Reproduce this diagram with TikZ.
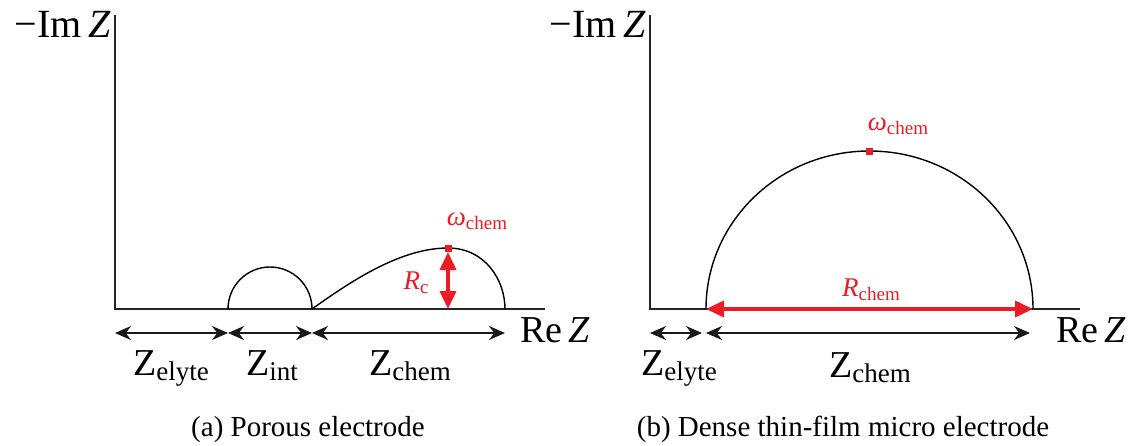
\documentclass[tikz,border=0pt]{standalone}
\usepackage{fontspec}
\setmainfont{Liberation Serif}
\usetikzlibrary{arrows.meta}
\definecolor{myred}{RGB}{237,28,36}
\newcommand{\Zsub}[1]{Z\raisebox{-5pt}{\fontsize{27}{30}\selectfont #1}}
\newcommand{\Rsub}[1]{\textit{R}\raisebox{-4pt}{\fontsize{19}{22}\selectfont #1}}
\newcommand{\Wsub}[1]{\textit{ω}\raisebox{-4pt}{\fontsize{19}{22}\selectfont #1}}
\begin{document}
\begin{tikzpicture}[x=1pt,y=-1pt,
  axis/.style={line width=1.7pt,black!85},
  curve/.style={line width=1.4pt,black},
  dim/.style={line width=2pt,black!90,{Stealth[length=16pt,width=14pt]}-{Stealth[length=16pt,width=14pt]}},
  reddim/.style={line width=3.8pt,myred,{Triangle[length=18pt,width=16pt]}-{Triangle[length=18pt,width=16pt]}},
  biglab/.style={inner sep=0pt,font=\fontsize{38}{42}\selectfont},
  imlab/.style={inner sep=0pt,font=\fontsize{40}{44}\selectfont},
  redlab/.style={inner sep=0pt,text=myred,font=\fontsize{27}{30}\selectfont},
  caplab/.style={inner sep=0pt,font=\fontsize{29}{32}\selectfont},
  marker/.style={fill=myred,minimum size=7pt,inner sep=0pt}]
\useasboundingbox (0,0) rectangle (1141,445);
% ---------- panel (a)
\coordinate (aTop) at (115,15);
\coordinate (aO) at (115,309);
\coordinate (aEnd) at (545,309);
\draw[axis] (aTop) -- (aO) -- (aEnd);
\node[imlab,anchor=base east] (aIm) at (111,37) {−Im\,\textit{Z}};
\node[biglab,anchor=base west] (aRe) at (520,342) {Re\,\textit{Z}};
\coordinate (a1) at (228,309);
\coordinate (a2) at (312,309);
\coordinate (aPk) at (448,248);
\coordinate (a3) at (505,309);
\draw[curve] (a1) arc[start angle=180,end angle=360,radius=42];
\draw[curve] (a2) .. controls (350,282) and (400,248) .. (aPk)
  .. controls (485,248) and (505,280) .. (a3);
\coordinate (aPkb) at (448,252);
\coordinate (aBase) at (448,309);
\draw[reddim] (aPkb) -- (aBase);
\node[marker] (aM) at (aPk) {};
\node[redlab] (aRc) at (416,283) {\Rsub{c}};
\node[redlab] (aW) at (477,221) {\Wsub{chem}};
\coordinate (d0) at (115,333);
\coordinate (d1) at (228,333);
\coordinate (d2) at (312,333);
\coordinate (d3) at (505,333);
\draw[dim] (d0) -- (d1);
\draw[dim] (d1) -- (d2);
\draw[dim] (d2) -- (d3);
\node[biglab,anchor=base] (aZe) at (171,375) {\Zsub{elyte}};
\node[biglab,anchor=base] (aZi) at (272,375) {\Zsub{int}};
\node[biglab,anchor=base] (aZc) at (410,375) {\Zsub{chem}};
\node[caplab,anchor=base] (capA) at (308,436) {(a) Porous electrode};
% ---------- panel (b)
\coordinate (bTop) at (650,15);
\coordinate (bO) at (650,309);
\coordinate (bEnd) at (1080,309);
\draw[axis] (bTop) -- (bO) -- (bEnd);
\node[imlab,anchor=base east] (bIm) at (646,37) {−Im\,\textit{Z}};
\node[biglab,anchor=base west] (bRe) at (1056,342) {Re\,\textit{Z}};
\coordinate (b1) at (706,309);
\coordinate (b2) at (1033,309);
\coordinate (bPk) at (869.5,151);
\draw[curve] (b1) arc[start angle=180,end angle=360,x radius=163.5,y radius=158];
\draw[reddim] (b1) -- (b2);
\node[marker] (bM) at (bPk) {};
\node[redlab] (bW) at (898,126) {\Wsub{chem}};
\node[redlab] (bR) at (871,290) {\Rsub{chem}};
\coordinate (e0) at (650,333);
\coordinate (e1) at (702,333);
\coordinate (e2) at (706,333);
\coordinate (e3) at (1030,333);
\draw[dim] (e0) -- (e1);
\draw[dim] (e2) -- (e3);
\node[biglab,anchor=base] (bZe) at (679,375) {\Zsub{elyte}};
\node[biglab,anchor=base] (bZc) at (870,377) {\Zsub{chem}};
\node[caplab,anchor=base] (capB) at (843,436) {(b) Dense thin-film micro electrode};
\end{tikzpicture}
\end{document}
